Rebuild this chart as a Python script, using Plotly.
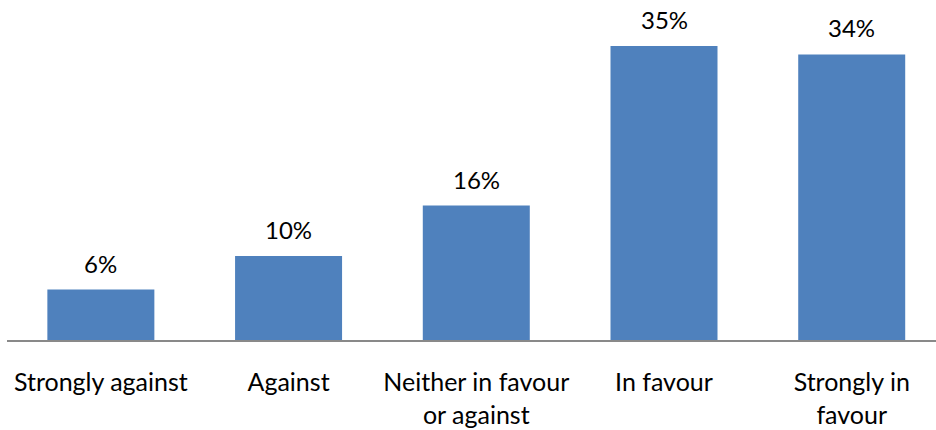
import plotly.graph_objects as go

categories = ["Strongly against", "Against", "Neither in favour<br>or against", "In favour", "Strongly in<br>favour"]
values = [6, 10, 16, 35, 34]
labels = ["6%", "10%", "16%", "35%", "34%"]

FONT = "Lato"
xpos = list(range(len(categories)))

fig = go.Figure()
fig.add_trace(go.Bar(
    x=xpos, y=values, marker=dict(color="#4F81BD", line=dict(width=0)),
    width=0.57, hoverinfo="skip",
))
for xi, v, t in zip(xpos, values, labels):
    fig.add_annotation(x=xi, y=v, text=t, showarrow=False, yanchor="bottom",
                       yshift=10, font=dict(family=FONT, size=24, color="#000000"))

fig.update_layout(
    width=936, height=430,
    margin=dict(l=7, r=0, t=4, b=90),
    paper_bgcolor="white", plot_bgcolor="white",
    showlegend=False,
    bargap=0.43,
    font=dict(family=FONT, size=25, color="#000000"),
)
fig.update_xaxes(
    range=[-0.5, 4.449], tickvals=xpos, ticktext=categories,
    showline=True, linecolor="#898989", linewidth=2,
    showgrid=False, zeroline=False, ticks="outside", ticklen=19, tickcolor="rgba(0,0,0,0)",
    tickfont=dict(family=FONT, size=25, color="#000000"),
)
fig.update_yaxes(range=[0, 40], visible=False, showgrid=False, zeroline=False)

fig.write_html("out.html")
